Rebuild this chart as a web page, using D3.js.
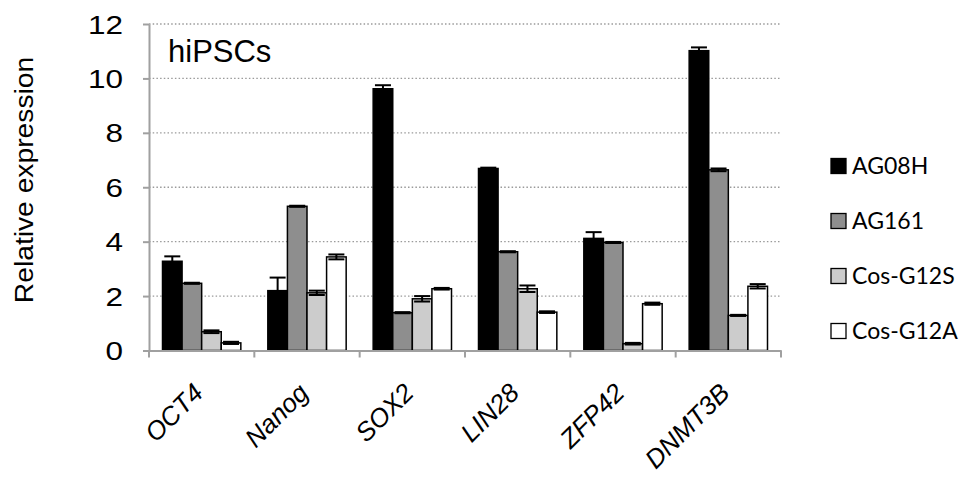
<!DOCTYPE html>
<html>
<head>
<meta charset="utf-8">
<script src="https://cdn.jsdelivr.net/npm/d3@7/dist/d3.min.js"></script>
<style>
  html, body { margin: 0; padding: 0; background: #fff; }
  svg { display: block; }
</style>
</head>
<body>
<svg id="chart" width="960" height="480"></svg>
<script>
// Genes on the x axis
const categories = ["OCT4", "Nanog", "SOX2", "LIN28", "ZFP42", "DNMT3B"];
// Cell lines (legend order)
const seriesNames = ["AG08H", "AG161", "Cos-G12S", "Cos-G12A"];
// Relative expression per cell line, in gene order
const valuesAG08H   = [3.28, 2.20, 9.62, 6.69, 4.12, 11.02];
const valuesAG161   = [2.47, 5.30, 1.39, 3.63, 3.97, 6.64];
const valuesCosG12S = [0.69, 2.12, 1.90, 2.27, 0.25, 1.29];
const valuesCosG12A = [0.28, 3.44, 2.27, 1.41, 1.72, 2.36];
// Error (± one deviation) per cell line, in gene order
const errAG08H   = [0.18, 0.48, 0.13, 0.03, 0.23, 0.12];
const errAG161   = [0.02, 0.02, 0.02, 0.02, 0.02, 0.05];
const errCosG12S = [0.05, 0.08, 0.10, 0.12, 0.03, 0.02];
const errCosG12A = [0.04, 0.09, 0.03, 0.03, 0.04, 0.08];
// Axis ticks
const yTicks = [0, 2, 4, 6, 8, 10, 12];
const panelTitle = "hiPSCs";
const yTitle = "Relative expression";

const seriesValues = [valuesAG08H, valuesAG161, valuesCosG12S, valuesCosG12A];
const seriesErrors = [errAG08H, errAG161, errCosG12S, errCosG12A];
const fills = ["#000000", "#8e8e8e", "#cccccc", "#ffffff"];

const rows = [];
categories.forEach((cat, ci) => {
  seriesNames.forEach((s, si) => {
    rows.push({ cat, series: s, si, value: seriesValues[si][ci], err: seriesErrors[si][ci] });
  });
});

const svg = d3.select("#chart");
const plotLeft = 149, plotRight = 781, plotTop = 24, plotBottom = 350.5;

const x0 = d3.scaleBand().domain(categories).range([plotLeft, plotRight]).paddingInner(0).paddingOuter(0);
const inset = 13.5;
const x1 = d3.scaleBand().domain(seriesNames).range([inset, x0.bandwidth() - inset]).padding(0);
const y = d3.scaleLinear().domain([0, 12]).range([plotBottom, plotTop]);

const axisGrey = "#a0a0a0";

// Dotted horizontal gridlines
svg.append("g")
  .selectAll("line")
  .data(yTicks.filter(t => t > 0))
  .join("line")
  .attr("x1", plotLeft).attr("x2", plotRight)
  .attr("y1", d => y(d)).attr("y2", d => y(d))
  .attr("stroke", "#9a9a9a")
  .attr("stroke-width", 1.3)
  .attr("stroke-dasharray", "1.5,2.2");

// Y axis
const yAxisG = svg.append("g")
  .attr("transform", `translate(${plotLeft},0)`)
  .call(d3.axisLeft(y).tickValues(yTicks).tickSize(6).tickSizeOuter(0));
yAxisG.select(".domain").attr("stroke", axisGrey).attr("stroke-width", 2);
yAxisG.selectAll(".tick line").attr("stroke", axisGrey).attr("stroke-width", 2);
const tickScaleX = 1.26;
yAxisG.selectAll(".tick text")
  .attr("font-family", "'Liberation Sans', Arial, sans-serif")
  .attr("font-size", 25)
  .attr("fill", "#000")
  .attr("text-anchor", "end")
  .attr("x", -26 / tickScaleX)
  .attr("dy", "0.36em")
  .attr("transform", `scale(${tickScaleX},1)`);

// Bars
const groups = svg.append("g")
  .selectAll("g")
  .data(categories)
  .join("g")
  .attr("transform", d => `translate(${x0(d)},0)`);

groups.selectAll("rect")
  .data(cat => rows.filter(r => r.cat === cat))
  .join("rect")
  .attr("x", d => x1(d.series))
  .attr("y", d => y(d.value))
  .attr("width", x1.bandwidth())
  .attr("height", d => y(0) - y(d.value))
  .attr("fill", d => fills[d.si])
  .attr("stroke", "#000")
  .attr("stroke-width", 1.5);

// Error bars
const capHalf = 8;
const eb = groups.selectAll("g.err")
  .data(cat => rows.filter(r => r.cat === cat))
  .join("g")
  .attr("class", "err")
  .attr("stroke", "#000")
  .attr("stroke-width", 2);
eb.append("line")
  .attr("x1", d => x1(d.series) + x1.bandwidth() / 2)
  .attr("x2", d => x1(d.series) + x1.bandwidth() / 2)
  .attr("y1", d => y(d.value - d.err))
  .attr("y2", d => y(d.value + d.err));
eb.append("line")
  .attr("x1", d => x1(d.series) + x1.bandwidth() / 2 - capHalf)
  .attr("x2", d => x1(d.series) + x1.bandwidth() / 2 + capHalf)
  .attr("y1", d => y(d.value + d.err))
  .attr("y2", d => y(d.value + d.err));
eb.append("line")
  .attr("x1", d => x1(d.series) + x1.bandwidth() / 2 - capHalf)
  .attr("x2", d => x1(d.series) + x1.bandwidth() / 2 + capHalf)
  .attr("y1", d => y(d.value - d.err))
  .attr("y2", d => y(d.value - d.err));

// X axis line with ticks on category boundaries
const xAxisG = svg.append("g")
  .attr("transform", `translate(0,${plotBottom})`)
  .call(d3.axisBottom(x0).tickSize(0).tickSizeOuter(0).tickFormat(""));
xAxisG.select(".domain").attr("stroke", axisGrey).attr("stroke-width", 2);
const boundaries = categories.map(c => x0(c)).concat([x0.range()[1]]);
xAxisG.append("g")
  .selectAll("line")
  .data(boundaries)
  .join("line")
  .attr("x1", d => d).attr("x2", d => d)
  .attr("y1", 0).attr("y2", 7)
  .attr("stroke", axisGrey)
  .attr("stroke-width", 2);

// Slanted gene labels, right end anchored under each category centre
svg.append("g")
  .selectAll("g")
  .data(categories)
  .join("g")
  .attr("transform", d => `translate(${x0(d) + x0.bandwidth() / 2 + 3},${plotBottom + 44}) rotate(-45)`)
  .append("text")
  .attr("x", 0).attr("y", 0)
  .attr("text-anchor", "end")
  .attr("font-family", "'Liberation Sans', Arial, sans-serif")
  .attr("font-size", 26)
  .attr("font-style", "italic")
  .attr("fill", "#000")
  .text(d => d);

// Panel title
svg.append("text")
  .attr("x", 168).attr("y", 61.5)
  .attr("font-family", "'Liberation Sans', Arial, sans-serif")
  .attr("font-size", 31)
  .attr("fill", "#000")
  .text(panelTitle);

// Y axis title
svg.append("text")
  .attr("transform", "translate(33,180) rotate(-90) scale(1.13,1)")
  .attr("text-anchor", "middle")
  .attr("font-family", "'Liberation Sans', Arial, sans-serif")
  .attr("font-size", 25)
  .attr("fill", "#000")
  .text(yTitle);

// Legend
const legendY = d3.scalePoint().domain(seriesNames).range([166, 331]);
const legend = svg.append("g")
  .selectAll("g")
  .data(seriesNames)
  .join("g")
  .attr("transform", d => `translate(831,${legendY(d)})`);
legend.append("rect")
  .attr("x", 0).attr("y", -7.5)
  .attr("width", 15).attr("height", 15)
  .attr("fill", (d, i) => fills[i])
  .attr("stroke", "#000")
  .attr("stroke-width", 1.3);
legend.append("text")
  .attr("x", 21).attr("y", 0)
  .attr("dy", "0.36em")
  .attr("font-family", "Lato, 'Open Sans', sans-serif")
  .attr("font-size", 23)
  .attr("fill", "#000")
  .text(d => d);
</script>
</body>
</html>
